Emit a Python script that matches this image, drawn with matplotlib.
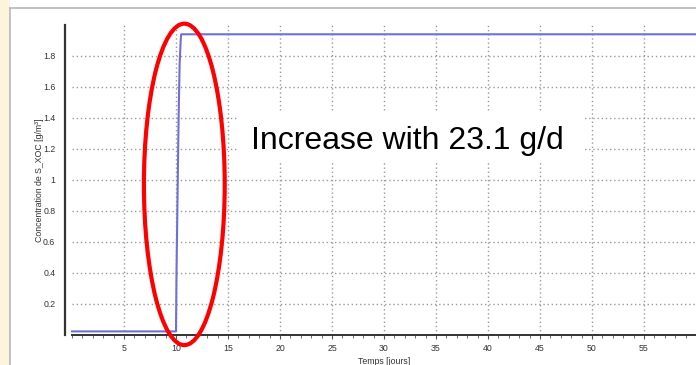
import matplotlib
matplotlib.use("Agg")
import matplotlib.pyplot as plt
from matplotlib.patches import Ellipse, Rectangle
from matplotlib.lines import Line2D
from matplotlib.ticker import MultipleLocator, FuncFormatter

# -- Step response
time_days = [0, 10.0, 10.05, 10.15, 10.25, 10.35, 10.45, 10.5, 60]
conc = [0.02, 0.02, 0.40, 0.90, 1.40, 1.75, 1.90, 1.94, 1.94]

x_ticks = [5, 10, 15, 20, 25, 30, 35, 40, 45, 50, 55]
y_ticks = [0.2, 0.4, 0.6, 0.8, 1.0, 1.2, 1.4, 1.6, 1.8]
note = "Increase with 23.1 g/d"

plt.rcParams['font.family'] = ['Liberation Sans', 'DejaVu Sans']

fig = plt.figure(figsize=(6.96, 3.65), dpi=100)
fig.patch.set_facecolor('white')

# -- slide background strip and panel border
fig.patches.append(Rectangle((0, 0), 10 / 696, 1, transform=fig.transFigure,
                             facecolor='#fcf5dc', edgecolor='none', zorder=0))
fig.lines.append(Line2D([10 / 696, 10 / 696], [0, 1 - 8 / 365], transform=fig.transFigure,
                        color='#b8b8b8', linewidth=1.2))
fig.lines.append(Line2D([10 / 696, 1], [1 - 8 / 365, 1 - 8 / 365], transform=fig.transFigure,
                        color='#b8b8b8', linewidth=1.2))

ax = fig.add_axes([72 / 696, 30.5 / 365, 624 / 696, 309.5 / 365])
ax.set_xlim(0, 60)
ax.set_ylim(0, 2.0)

ax.plot(time_days, conc, color='#6f6fd6', linewidth=1.5, zorder=3, clip_on=False)

# -- grid
ax.set_xticks(x_ticks)
ax.set_yticks(y_ticks)
ax.xaxis.set_minor_locator(MultipleLocator(1))
ax.yaxis.set_major_formatter(FuncFormatter(lambda v, p: '%g' % v))
ax.grid(True, color='#9a9a9a', linestyle=(0, (1, 2)), linewidth=1.0, zorder=0)
ax.set_axisbelow(True)

# -- spines
for s in ['top', 'right']:
    ax.spines[s].set_visible(False)
ax.spines['left'].set_position(('outward', 5))
ax.spines['left'].set_color('#333333')
ax.spines['left'].set_linewidth(1.6)
ax.spines['bottom'].set_color('#333333')
ax.spines['bottom'].set_linewidth(1.4)

ax.tick_params(axis='y', length=0, pad=7, labelsize=6.3, labelcolor='#333333')
ax.tick_params(axis='x', which='major', direction='out', length=3, width=0.8,
               color='#555555', pad=4, labelsize=6.3, labelcolor='#333333')
ax.tick_params(axis='x', which='minor', direction='out', length=2, width=0.6, color='#555555')

ax.set_xlabel('Temps [jours]', fontsize=6.3, color='#333333', labelpad=3)
ax.set_ylabel('Concentration de S_XOC [g/m³]', fontsize=6.3, color='#333333', labelpad=-1)

# -- annotation box, text and ellipse
ax.add_patch(Rectangle((16.1, 1.113), 33.1, 0.316, facecolor='white', edgecolor='none', zorder=2))
ax.text(17.2, 1.197, note, fontsize=23, color='black', ha='left', va='baseline', zorder=4)
ax.add_patch(Ellipse((10.8, 0.97), 7.77, 2.077, fill=False, edgecolor='#ff0000',
                     linewidth=3, zorder=5, clip_on=False))

fig.savefig('out.png', dpi=100)
